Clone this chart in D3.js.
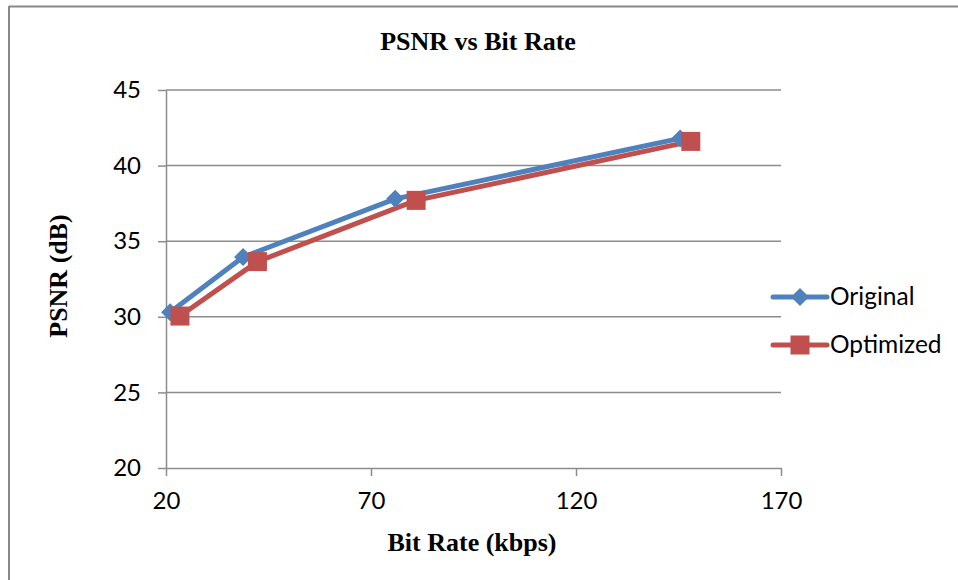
<!DOCTYPE html>
<head>
  <meta charset="utf-8">
  <style>
    body { margin: 0; background: #fff; }
    svg text { fill: #000; }
    .tick text { font: 24px Lato, "Open Sans", sans-serif; }
    .grid { stroke: #8c8c8c; stroke-width: 1.5px; }
    .domain, .tick line { stroke: #8c8c8c; stroke-width: 1.5px; }
    .ttl { font: bold 26px "Liberation Serif", "DejaVu Serif", serif; }
  </style>
</head>
<body>
<script src="https://d3js.org/d3.v7.min.js"></script>
<script>
  // values
  var bitRateOrig = [21, 38.8, 75.9, 145.4];
  var psnrOrig    = [30.3, 33.95, 37.8, 41.8];
  var bitRateOpt  = [23.4, 42.3, 81, 148];
  var psnrOpt     = [30.05, 33.65, 37.7, 41.6];
  var xTicks = [20, 70, 120, 170];
  var yTicks = [20, 25, 30, 35, 40, 45];
  var seriesNames = ["Original", "Optimized"];
  var colors = ["#4F81BD", "#C0504D"];

  var W = 958, H = 580;
  var plot = { left: 166, right: 781, top: 90, bottom: 468 };

  var svg = d3.select("body").append("svg")
      .attr("width", W).attr("height", H);

  // outer frame (top and left edges only visible)
  svg.append("line").attr("x1", 9).attr("y1", 6.5).attr("x2", W).attr("y2", 6.5)
      .style("stroke", "#888").style("stroke-width", 2);
  svg.append("line").attr("x1", 9).attr("y1", 6).attr("x2", 9).attr("y2", H)
      .style("stroke", "#888").style("stroke-width", 2);

  var x = d3.scaleLinear().domain([20, 170]).range([plot.left, plot.right]);
  var y = d3.scaleLinear().domain([20, 45]).range([plot.bottom, plot.top]);

  // horizontal grid
  svg.append("g").selectAll("line")
    .data(yTicks.slice(1))
    .enter().append("line")
      .classed("grid", true)
      .attr("x1", plot.left).attr("x2", plot.right)
      .attr("y1", function(d) { return y(d); })
      .attr("y2", function(d) { return y(d); });

  var xAxis = d3.axisBottom(x).tickValues(xTicks).tickSize(8).tickSizeOuter(0).tickPadding(14);
  svg.append("g")
      .attr("transform", "translate(0," + plot.bottom + ")")
      .call(xAxis)
      .call(function(g) { g.selectAll(".tick text").attr("dy", "0.8em"); });

  var yAxis = d3.axisLeft(y).tickValues(yTicks).tickSize(8).tickSizeOuter(0).tickPadding(17);
  svg.append("g")
      .attr("transform", "translate(" + plot.left + ",0)")
      .call(yAxis);

  // titles
  svg.append("text").attr("class", "ttl")
      .attr("x", 478).attr("y", 50)
      .attr("text-anchor", "middle")
      .text("PSNR vs Bit Rate");
  svg.append("text").attr("class", "ttl")
      .attr("x", 472).attr("y", 551)
      .attr("text-anchor", "middle")
      .text("Bit Rate (kbps)");
  svg.append("text").attr("class", "ttl")
      .attr("transform", "translate(67,276) rotate(-90)")
      .attr("text-anchor", "middle")
      .text("PSNR (dB)");

  var series = [
    { name: seriesNames[0], xs: bitRateOrig, ys: psnrOrig, color: colors[0], shape: "diamond" },
    { name: seriesNames[1], xs: bitRateOpt,  ys: psnrOpt,  color: colors[1], shape: "square" }
  ];

  var line = d3.line()
      .x(function(d) { return x(d[0]); })
      .y(function(d) { return y(d[1]); });

  function marker(g, shape, color) {
    if (shape === "diamond") {
      g.append("path").attr("d", "M0,-9L9,0L0,9L-9,0Z").style("fill", color);
    } else {
      g.append("rect").attr("x", -9.5).attr("y", -9.5).attr("width", 19).attr("height", 19)
        .style("fill", color);
    }
  }

  series.forEach(function(s) {
    var pts = s.xs.map(function(v, i) { return [v, s.ys[i]]; });
    svg.append("path")
        .datum(pts)
        .attr("d", line)
        .style("fill", "none")
        .style("stroke", s.color)
        .style("stroke-width", 5)
        .style("stroke-linejoin", "round");
  });

  series.forEach(function(s) {
    s.xs.forEach(function(v, i) {
      var g = svg.append("g").attr("transform", "translate(" + x(v) + "," + y(s.ys[i]) + ")");
      marker(g, s.shape, s.color);
    });
  });

  // legend
  var leg = svg.append("g").attr("transform", "translate(773,297)");
  series.forEach(function(s, i) {
    var g = leg.append("g").attr("transform", "translate(0," + (i * 48) + ")");
    g.append("line").attr("x1", 0).attr("x2", 54).attr("y1", 0).attr("y2", 0)
        .style("stroke", s.color).style("stroke-width", 5).style("stroke-linecap", "round");
    marker(g.append("g").attr("transform", "translate(27,0)"), s.shape, s.color);
    g.append("text").attr("x", 57).attr("y", 8)
        .style("font", "24.5px Lato, 'Open Sans', sans-serif")
        .text(s.name);
  });
</script>
</body>
</html>
